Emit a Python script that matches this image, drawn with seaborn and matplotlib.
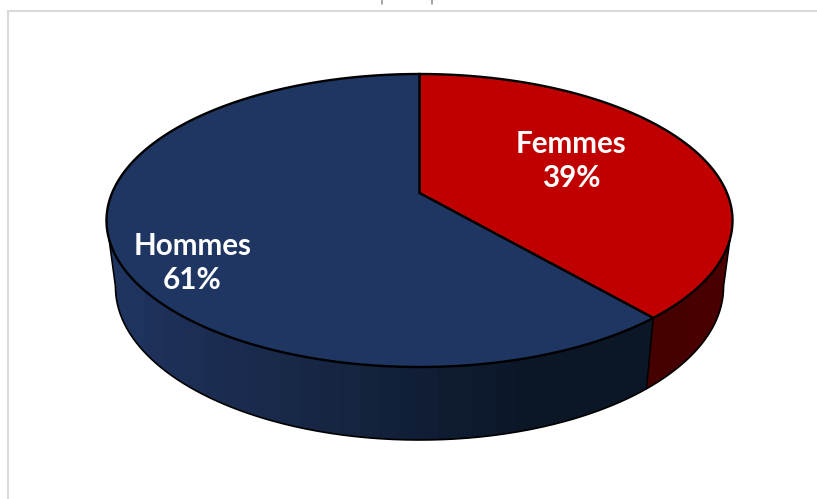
import numpy as np
import matplotlib
matplotlib.use("Agg")
import matplotlib.pyplot as plt
from matplotlib.patches import Polygon
import seaborn as sns

categories = ["Femmes", "Hommes"]
shares = [38.7, 61.3]
top_colors = ["#c00000", "#1e3661"]
red_side_stops = ["#450000", "#4a0000"]
blue_side_stops = ["#1f3560", "#1b2c50", "#172643", "#101d34", "#0b1626", "#0b1626"]

sns.set_theme(style="white")
plt.rcParams["font.family"] = ["Lato", "Open Sans", "DejaVu Sans"]

fig = plt.figure(figsize=(8.17, 4.99), dpi=100, facecolor="white")
ax = fig.add_axes([0, 0, 1, 1])

# Perspective geometry of the disc, in pixels
CX, TOP_CY, TOP_RX, TOP_RY = 419.5, 220.5, 313.0, 146.5
BOT_CY, BOT_RX, BOT_RY = 287.0, 304.0, 153.0
APEX_Y = 193.0
PERSP_C, PERSP_A, PERSP_K = -0.1877, 105.1, 307.5


def share_to_phi(cum_share):
    """Ellipse parameter of a clockwise-from-top share under the perspective."""
    t = 2 * np.pi * cum_share / 100
    u, v = np.sin(t), -np.cos(t)
    d = 1 + PERSP_C * v
    x = PERSP_K * u / d
    y = (PERSP_A * v + APEX_Y) / d
    return np.arctan2((y - TOP_CY) / TOP_RY, x / TOP_RX)


def top_pt(phi):
    return CX + TOP_RX * np.cos(phi), TOP_CY + TOP_RY * np.sin(phi)


def bot_pt(phi):
    return CX + BOT_RX * np.cos(phi), BOT_CY + BOT_RY * np.sin(phi)


phi_split = share_to_phi(shares[0])


def wall(phi0, phi1, stops, bands):
    """Side wall between two ellipse parameters, shaded left to right."""
    ph = np.linspace(phi0, phi1, 300)
    xt, yt = top_pt(ph)
    xb, yb = bot_pt(ph)
    xs = np.r_[xt, xb[::-1]]
    ys = np.r_[yt, yb[::-1]]
    pal = np.array(sns.blend_palette(stops, bands))[:, :3][None, :, :]
    im = ax.imshow(pal, extent=(xs.min(), xs.max(), ys.max(), ys.min()),
                   aspect="auto", interpolation="nearest", zorder=1)
    im.set_clip_path(Polygon(np.c_[xs, ys], closed=True, transform=ax.transData))


wall(np.pi, phi_split, blue_side_stops, 28)
wall(phi_split, 0.0, red_side_stops, 6)

ax.set_xlim(0, 817)
ax.set_ylim(499, 0)
ax.axis("off")

# Side wall outlines
phi_bot = np.linspace(0, np.pi, 300)
ax.plot(*bot_pt(phi_bot), color="black", lw=1.2, zorder=2)
for p in (0.0, np.pi, phi_split):
    xt, yt = top_pt(p)
    xb, yb = bot_pt(p)
    ax.plot([xt, xb], [yt, yb], color="black", lw=1.1, zorder=2)

# Top face slices
ranges = [(-np.pi / 2, phi_split), (phi_split, 3 * np.pi / 2)]
for (p0, p1), col in zip(ranges, top_colors):
    ph = np.linspace(p0, p1, 400)
    xs, ys = top_pt(ph)
    ax.fill(np.r_[CX, xs], np.r_[APEX_Y, ys], facecolor=col, edgecolor="black",
            lw=1.7, joinstyle="miter", zorder=3)

# Labels
label_pos = [(571.5, 161), (192.5, 263)]
for name, val, (lx, ly) in zip(categories, shares, label_pos):
    ax.text(lx, ly, f"{name}\n{val:.0f}%", color="white", fontsize=21.3, fontweight="bold",
            ha="center", va="center", multialignment="center", linespacing=1.22, zorder=4)

# Frame of the surrounding chart area, and the cropped title remains
ax.plot([8, 8, 817], [499, 11, 11], color="#d9d9d9", lw=1.5, solid_joinstyle="miter", zorder=0)
for x in (381.7, 431.7):
    ax.plot([x, x], [0, 3.5], color="#8c8c8c", lw=1.1, zorder=0)

fig.savefig("out.png", dpi=100, facecolor="white")
